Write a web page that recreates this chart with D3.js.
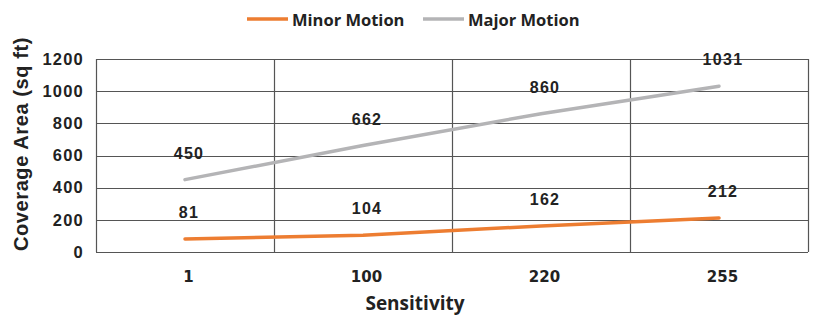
<!DOCTYPE html>
<html>
<head>
<meta charset="utf-8">
<script src="https://cdn.jsdelivr.net/npm/d3@7"></script>
<style>
  body { margin: 0; background: #fff; }
  svg { display: block; }
</style>
</head>
<body>
<div id="chart"></div>
<script>
const categories = ["1", "100", "220", "255"];
const minorMotion = [81, 104, 162, 212];
const majorMotion = [450, 662, 860, 1031];
const yTicks = [0, 200, 400, 600, 800, 1000, 1200];

const series = [
  { name: "Minor Motion", values: minorMotion, color: "#ED7D31" },
  { name: "Major Motion", values: majorMotion, color: "#B4B4B6" },
];

const width = 814;
const height = 316;
const margin = { top: 59, right: 6, bottom: 64, left: 96 };

const svg = d3
  .select("#chart")
  .append("svg")
  .attr("width", width)
  .attr("height", height);

const x = d3
  .scalePoint()
  .domain(categories)
  .range([margin.left, width - margin.right])
  .padding(0.5);

const y = d3
  .scaleLinear()
  .domain([0, 1200])
  .range([height - margin.bottom, margin.top]);

const step = x.step();
const gridColor = "#555";

// horizontal grid
svg
  .append("g")
  .selectAll("line")
  .data(yTicks)
  .join("line")
  .attr("x1", margin.left)
  .attr("x2", width - margin.right)
  .attr("y1", (d) => Math.round(y(d)) + 0.5)
  .attr("y2", (d) => Math.round(y(d)) + 0.5)
  .attr("stroke", gridColor)
  .attr("stroke-width", 1.2);

// vertical grid at category boundaries
const bounds = categories.map((c) => x(c) - step / 2).concat([x(categories[categories.length - 1]) + step / 2]);
svg
  .append("g")
  .selectAll("line")
  .data(bounds)
  .join("line")
  .attr("x1", (d) => Math.round(d) + 0.5)
  .attr("x2", (d) => Math.round(d) + 0.5)
  .attr("y1", y(1200))
  .attr("y2", y(0))
  .attr("stroke", gridColor)
  .attr("stroke-width", 1.2);

// y axis labels
const yAxis = d3
  .axisLeft(y)
  .tickValues(yTicks)
  .tickFormat(d3.format("d"))
  .tickSize(0)
  .tickPadding(12);
svg
  .append("g")
  .attr("transform", `translate(${margin.left},0)`)
  .call(yAxis)
  .call((g) => g.select(".domain").remove())
  .selectAll("text")
  .attr("fill", "#222")
  .style("font-family", "'Liberation Sans', Arial, sans-serif")
  .style("font-weight", "bold")
  .style("font-size", "16.5px")
  .style("letter-spacing", "1.2px");

// x axis labels
const xAxis = d3.axisBottom(x).tickSize(0).tickPadding(0);
svg
  .append("g")
  .attr("transform", `translate(3,${y(0)})`)
  .call(xAxis)
  .call((g) => g.select(".domain").remove())
  .selectAll("text")
  .attr("dy", null)
  .attr("y", 30)
  .attr("fill", "#222")
  .style("font-family", "'DejaVu Sans', sans-serif")
  .style("font-weight", "bold")
  .style("font-size", "15px");

// lines
const line = d3
  .line()
  .x((d, i) => x(categories[i]))
  .y((d) => y(d));

svg
  .append("g")
  .selectAll("path")
  .data(series)
  .join("path")
  .attr("d", (s) => line(s.values))
  .attr("fill", "none")
  .attr("stroke", (s) => s.color)
  .attr("stroke-width", 3.5)
  .attr("stroke-linecap", "round");

// data labels
series.forEach((s) => {
  svg
    .append("g")
    .selectAll("text")
    .data(s.values)
    .join("text")
    .attr("x", (d, i) => x(categories[i]) + 4)
    .attr("y", (d) => y(d) - 21)
    .attr("text-anchor", "middle")
    .attr("fill", "#222")
    .style("font-family", "'Liberation Sans', Arial, sans-serif")
    .style("font-weight", "bold")
    .style("font-size", "16px")
    .style("letter-spacing", "1.3px")
    .text((d) => d);
});

// axis titles
svg
  .append("text")
  .attr("x", 415)
  .attr("y", 310)
  .attr("text-anchor", "middle")
  .attr("fill", "#222")
  .style("font-family", "'Open Sans', sans-serif")
  .style("font-weight", "bold")
  .style("font-size", "19px")
  .text("Sensitivity");

svg
  .append("text")
  .attr("transform", "translate(28,144) rotate(-90)")
  .attr("text-anchor", "middle")
  .attr("fill", "#222")
  .style("font-family", "'Liberation Sans', Arial, sans-serif")
  .style("font-weight", "bold")
  .style("font-size", "20px")
  .style("letter-spacing", "0.6px")
  .text("Coverage Area (sq ft)");

// legend
const legendX = [247, 423];
const legend = svg
  .append("g")
  .selectAll("g")
  .data(series)
  .join("g")
  .attr("transform", (d, i) => `translate(${legendX[i]},19)`);

legend
  .append("line")
  .attr("x1", 0)
  .attr("x2", 41)
  .attr("stroke", (d) => d.color)
  .attr("stroke-width", 3.5);

legend
  .append("text")
  .attr("x", 45)
  .attr("y", 6.5)
  .attr("fill", "#222")
  .style("font-family", "'Open Sans', sans-serif")
  .style("font-weight", "bold")
  .style("font-size", "16.5px")
  .text((d) => d.name);
</script>
</body>
</html>
